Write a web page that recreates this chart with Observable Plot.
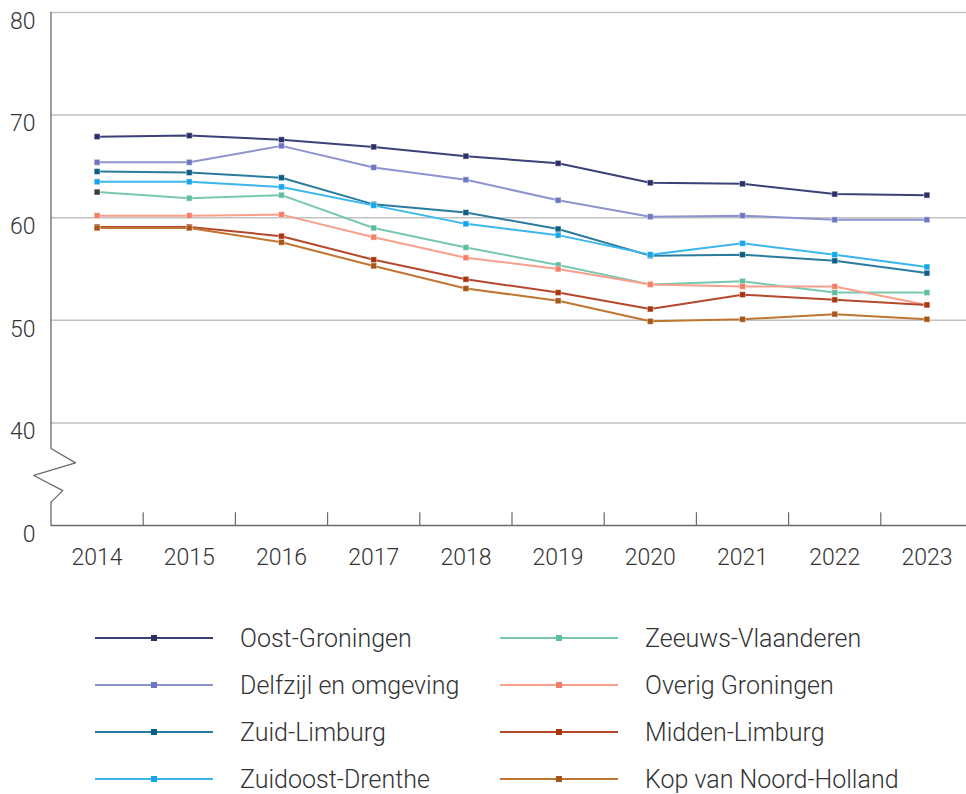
<!DOCTYPE html>
<html><head><meta charset="utf-8">
<script src="https://cdn.jsdelivr.net/npm/d3@7"></script>
<script src="https://cdn.jsdelivr.net/npm/@observablehq/plot@0.6"></script>
<style>
body{margin:0;background:#fff;font-family:Roboto,sans-serif;font-weight:300;color:#333}
#wrap{position:relative;width:966px;height:794px;overflow:hidden}
#legend{position:absolute;left:0;top:580px;width:966px;height:214px}
.item{position:absolute;display:flex;align-items:center;height:30px;font-size:25px;white-space:nowrap;color:#333}
.item svg{margin-right:27px;flex:none}
</style></head><body>
<div id="wrap"><div id="chart"></div><div id="legend"></div></div>
<script>
const years = [2014, 2015, 2016, 2017, 2018, 2019, 2020, 2021, 2022, 2023];
const regions = ["Oost-Groningen", "Delfzijl en omgeving", "Zuid-Limburg", "Zuidoost-Drenthe",
  "Zeeuws-Vlaanderen", "Overig Groningen", "Midden-Limburg", "Kop van Noord-Holland"];
const oostGroningen   = [67.9, 68.0, 67.6, 66.9, 66.0, 65.3, 63.4, 63.3, 62.3, 62.2];
const delfzijl        = [65.4, 65.4, 67.0, 64.9, 63.7, 61.7, 60.1, 60.2, 59.8, 59.8];
const zuidLimburg     = [64.5, 64.4, 63.9, 61.3, 60.5, 58.9, 56.3, 56.4, 55.8, 54.6];
const zuidoostDrenthe = [63.5, 63.5, 63.0, 61.2, 59.4, 58.3, 56.4, 57.5, 56.4, 55.2];
const zeeuwsVlaanderen= [62.5, 61.9, 62.2, 59.0, 57.1, 55.4, 53.5, 53.8, 52.7, 52.7];
const overigGroningen = [60.2, 60.2, 60.3, 58.1, 56.1, 55.0, 53.5, 53.3, 53.3, 51.5];
const middenLimburg   = [59.1, 59.1, 58.2, 55.9, 54.0, 52.7, 51.1, 52.5, 52.0, 51.5];
const kopNoordHolland = [59.0, 59.0, 57.6, 55.3, 53.1, 51.9, 49.9, 50.1, 50.6, 50.1];
const seriesValues = [oostGroningen, delfzijl, zuidLimburg, zuidoostDrenthe,
  zeeuwsVlaanderen, overigGroningen, middenLimburg, kopNoordHolland];
const lineColors   = ["#3b4177", "#8c93cf", "#2a7b9e", "#3ab6ef", "#78c8ad", "#f9a08a", "#b5472c", "#c07530"];
const markerColors = ["#2b3166", "#6f76c0", "#0d5e85", "#14a6e8", "#5ebd9e", "#f57f66", "#a6360f", "#a6561a"];
const markerOverrides = [{region: "Zeeuws-Vlaanderen", year: 2014, color: "#3d3d3d"}];
const yTicks = [0, 40, 50, 60, 70, 80];
const gridValues = [40, 50, 60, 70, 80];
const yearBounds = [2014.5, 2015.5, 2016.5, 2017.5, 2018.5, 2019.5, 2020.5, 2021.5, 2022.5];
const axisBreak = [[2013.5, 30], [2013.766, 24.4], [2013.313, 19.5], [2013.628, 13.6], [2013.5, 9.1]];

const data = [];
regions.forEach((r, i) => years.forEach((y, j) => {
  const ov = markerOverrides.find(o => o.region === r && o.year === y);
  data.push({region: r, year: y, value: seriesValues[i][j], marker: ov ? ov.color : markerColors[i]});
}));

const plot = Plot.plot({
  width: 966, height: 580,
  marginLeft: 50.5, marginRight: 0, marginTop: 12, marginBottom: 55,
  style: {fontFamily: "Roboto, sans-serif", fontWeight: 300, background: "white", overflow: "visible"},
  x: {type: "linear", domain: [2013.5, 2023.5], range: [50.5, 972.5], axis: null},
  y: {type: "linear", domain: [0, 40, 80], range: [525, 422.4, 12], axis: null},
  color: {domain: regions, range: lineColors},
  marks: [
    Plot.ruleY(gridValues, {y: d => d, stroke: "#c2c2c2", strokeWidth: 1.5}),
    Plot.ruleY([0], {stroke: "#6a6a6a", strokeWidth: 1.3}),
    Plot.ruleX(yearBounds, {x: d => d, y1: 0, y2: 5, stroke: "#6a6a6a", strokeWidth: 1.2}),
    Plot.ruleX([2013.5], {y1: 30, y2: 80, stroke: "#6a6a6a", strokeWidth: 1.3}),
    Plot.ruleX([2013.5], {y1: 0, y2: 9.1, stroke: "#6a6a6a", strokeWidth: 1.3}),
    Plot.line(axisBreak, {x: d => d[0], y: d => d[1], stroke: "#6a6a6a", strokeWidth: 1.3}),
    Plot.text(yTicks, {y: d => d, frameAnchor: "left", dx: -15.5, dy: 9, textAnchor: "end",
      text: d => String(d), fontSize: 23, fill: "#333"}),
    Plot.text(years, {x: d => d, y: () => 0, dy: 32, text: d => String(d), fontSize: 23, fill: "#333"}),
    Plot.line(data, {x: "year", y: "value", z: "region", stroke: "region", strokeWidth: 2}),
    Plot.dot(data, {x: "year", y: "value", fill: "marker", symbol: "square", r: 3.3,
      stroke: "white", strokeWidth: 0.6, strokeOpacity: 0.7})
  ]
});
document.getElementById("chart").appendChild(plot);

// legend
const legend = document.getElementById("legend");
const rowCenters = [58, 105, 152, 199];
const colLeft = [95, 500];
regions.forEach((r, i) => {
  const col = Math.floor(i / 4), row = i % 4;
  const div = document.createElement("div");
  div.className = "item";
  div.style.left = colLeft[col] + "px";
  div.style.top = (rowCenters[row] - 15) + "px";
  const svg = d3.create("svg").attr("width", 118).attr("height", 10);
  svg.append("line").attr("x1", 0).attr("x2", 118).attr("y1", 5).attr("y2", 5)
    .attr("stroke", lineColors[i]).attr("stroke-width", 2);
  svg.append("rect").attr("x", 56).attr("y", 2).attr("width", 6).attr("height", 6)
    .attr("fill", markerColors[i]);
  div.appendChild(svg.node());
  const span = document.createElement("span");
  span.textContent = r;
  div.appendChild(span);
  legend.appendChild(div);
});
</script>
</body></html>
